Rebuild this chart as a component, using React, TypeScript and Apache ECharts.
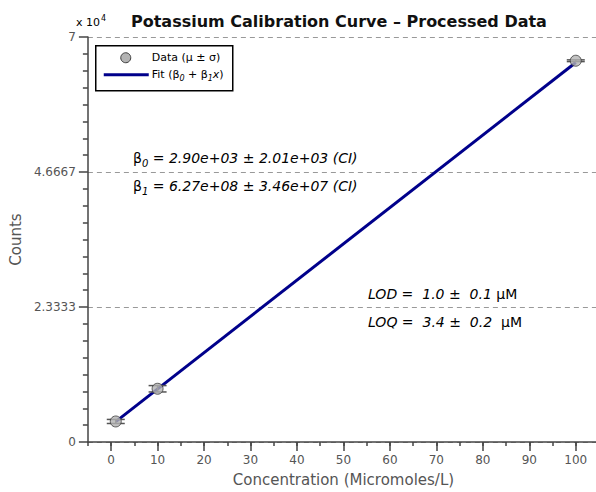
import React, { useEffect, useRef } from 'react';
import * as echarts from 'echarts';

// ---- data ----
const concentration = [1, 10, 100];
const countsMean = [3550, 9200, 65900];
const countsSd = [350, 550, 150];
const fitConcentration = [1, 100];
const fitCounts = [3530, 65600];
const xLabelValues = [0, 10, 20, 30, 40, 50, 60, 70, 80, 90, 100];

const FONT = "'DejaVu Sans', 'Liberation Sans', sans-serif";
const AXIS_COLOR = '#444';
const LABEL_COLOR = '#555';

export default function App() {
  const ref = useRef<HTMLDivElement>(null);
  useEffect(() => {
    if (!ref.current) return;
    const chart = echarts.init(ref.current, null, { renderer: 'svg' });
    const points = concentration.map((c, i) => [c, countsMean[i], countsSd[i]]);
    const fit = fitConcentration.map((c, i) => [c, fitCounts[i]]);

    const rich = {
      n: { fontFamily: FONT, fontSize: 14, color: '#222' },
      i: { fontFamily: FONT, fontSize: 14, fontStyle: 'italic', color: '#222' },
      s: { fontFamily: FONT, fontSize: 10, fontStyle: 'italic', color: '#222', padding: [10, 0, 0, 0] },
    };
    const legRich = {
      n: { fontFamily: FONT, fontSize: 11, color: '#111' },
      i: { fontFamily: FONT, fontSize: 11, fontStyle: 'italic', color: '#111' },
      s: { fontFamily: FONT, fontSize: 8, fontStyle: 'italic', color: '#111', padding: [7, 0, 0, 0] },
    };

    chart.setOption({
      animation: false,
      backgroundColor: '#fff',
      title: {
        text: 'Potassium Calibration Curve \u2013 Processed Data',
        left: 126,
        top: 8,
        textStyle: { fontFamily: FONT, fontSize: 16, fontWeight: 'bold', color: '#111' },
      },
      grid: { left: 85, right: 0, top: 37, bottom: 50, containLabel: false },
      xAxis: [
        {
          type: 'value',
          min: -5,
          max: 105,
          name: 'Concentration (Micromoles/L)',
          nameLocation: 'middle',
          nameGap: 30,
          nameTextStyle: { fontFamily: FONT, fontSize: 15, color: LABEL_COLOR },
          axisLine: { show: true, onZero: false, lineStyle: { color: AXIS_COLOR, width: 1.5 } },
          axisTick: { show: true, length: 9, customValues: xLabelValues, lineStyle: { color: AXIS_COLOR, width: 1.5 } },
          axisLabel: { customValues: xLabelValues, margin: 12, fontFamily: FONT, fontSize: 12, color: LABEL_COLOR },
          splitLine: { show: false },
        },
        {
          type: 'value',
          position: 'bottom',
          min: -5,
          max: 105,
          interval: 5,
          axisLine: { show: false, onZero: false },
          axisTick: { show: true, length: 4, lineStyle: { color: AXIS_COLOR, width: 1.5 } },
          axisLabel: { show: false },
          splitLine: { show: false },
        },
      ],
      yAxis: {
        type: 'value',
        min: 0,
        max: 70000,
        interval: 70000 / 3,
        name: 'Counts',
        nameLocation: 'middle',
        nameGap: 63,
        nameTextStyle: { fontFamily: FONT, fontSize: 15, color: LABEL_COLOR },
        axisLine: { show: true, onZero: false, lineStyle: { color: AXIS_COLOR, width: 1.5 } },
        axisTick: { show: true, length: 9, lineStyle: { color: AXIS_COLOR, width: 1.5 } },
        minorTick: { show: true, splitNumber: 8, length: 5, lineStyle: { color: AXIS_COLOR, width: 1.5 } },
        axisLabel: {
          margin: 12,
          fontFamily: FONT,
          fontSize: 12,
          color: LABEL_COLOR,
          formatter: (v: number) => String(parseFloat((v / 1e4).toFixed(4))),
        },
        splitLine: { show: true, lineStyle: { color: '#999', type: [5, 4], width: 1 } },
      },
      graphic: [
        {
          type: 'text',
          left: 76,
          top: 14,
          style: {
            text: '{a|x 10}{b|4}',
            rich: {
              a: { fontFamily: FONT, fontSize: 11, color: LABEL_COLOR },
              b: { fontFamily: FONT, fontSize: 8, color: LABEL_COLOR, padding: [0, 0, 8, 1] },
            },
          },
        },
        // legend box
        {
          type: 'group',
          left: 95,
          top: 45,
          children: [
            { type: 'rect', shape: { x: 0, y: 0, width: 137, height: 45 }, style: { fill: '#fff', stroke: '#000', lineWidth: 1.5 } },
            { type: 'circle', shape: { cx: 30, cy: 12, r: 5 }, style: { fill: '#b3b3b3', stroke: '#3c3c3c', lineWidth: 1 } },
            { type: 'line', shape: { x1: 8, y1: 29, x2: 53, y2: 29 }, style: { stroke: '#00008b', lineWidth: 3 } },
            {
              type: 'text', x: 56, y: 12,
              style: { text: '{n|Data (\u03bc \u00b1 \u03c3)}', rich: legRich, verticalAlign: 'middle' },
            },
            {
              type: 'text', x: 56, y: 29,
              style: { text: '{n|Fit (\u03b2}{s|0}{n| + \u03b2}{s|1}{i|x}{n|)}', rich: legRich, verticalAlign: 'middle' },
            },
          ],
        },
        {
          type: 'text', x: 133, y: 158,
          style: { text: '{n|\u03b2}{s|0}{i| = 2.90e+03 \u00b1 2.01e+03 (CI)}', rich, verticalAlign: 'middle' },
        },
        {
          type: 'text', x: 133, y: 186,
          style: { text: '{n|\u03b2}{s|1}{i| = 6.27e+08 \u00b1 3.46e+07 (CI)}', rich, verticalAlign: 'middle' },
        },
        {
          type: 'text', x: 368, y: 294,
          style: { text: '{i|LOD =  1.0 \u00b1  0.1 }{n|\u03bcM}', rich, verticalAlign: 'middle' },
        },
        {
          type: 'text', x: 368, y: 322,
          style: { text: '{i|LOQ =  3.4 \u00b1  0.2  }{n|\u03bcM}', rich, verticalAlign: 'middle' },
        },
      ],
      series: [
        {
          name: 'Fit',
          type: 'line',
          xAxisIndex: 0,
          data: fit,
          showSymbol: false,
          symbol: 'none',
          lineStyle: { color: '#00008b', width: 3 },
          z: 2,
        },
        {
          name: 'Error',
          type: 'custom',
          xAxisIndex: 0,
          data: points,
          z: 3,
          renderItem: (params: any, api: any) => {
            const x = api.value(0);
            const y = api.value(1);
            const s = api.value(2);
            const top = api.coord([x, y + s]);
            const bot = api.coord([x, y - s]);
            const half = 9;
            const st = { stroke: '#555', lineWidth: 1.5 };
            return {
              type: 'group',
              children: [
                { type: 'line', shape: { x1: top[0], y1: top[1], x2: bot[0], y2: bot[1] }, style: st },
                { type: 'line', shape: { x1: top[0] - half, y1: top[1], x2: top[0] + half, y2: top[1] }, style: st },
                { type: 'line', shape: { x1: bot[0] - half, y1: bot[1], x2: bot[0] + half, y2: bot[1] }, style: st },
              ],
            };
          },
        },
        {
          name: 'Data (\u03bc \u00b1 \u03c3)',
          type: 'scatter',
          xAxisIndex: 0,
          data: points.map((p) => [p[0], p[1]]),
          symbol: 'circle',
          symbolSize: 11,
          itemStyle: { color: '#b3b3b3', borderColor: '#3c3c3c', borderWidth: 1 },
          z: 4,
        },
      ],
    });
    return () => chart.dispose();
  }, []);

  return (
    <div style={{ position: 'fixed', left: 0, top: 0, width: 596, height: 492, overflow: 'hidden', background: '#fff' }}>
      <div ref={ref} style={{ width: 599, height: 492 }} />
    </div>
  );
}
